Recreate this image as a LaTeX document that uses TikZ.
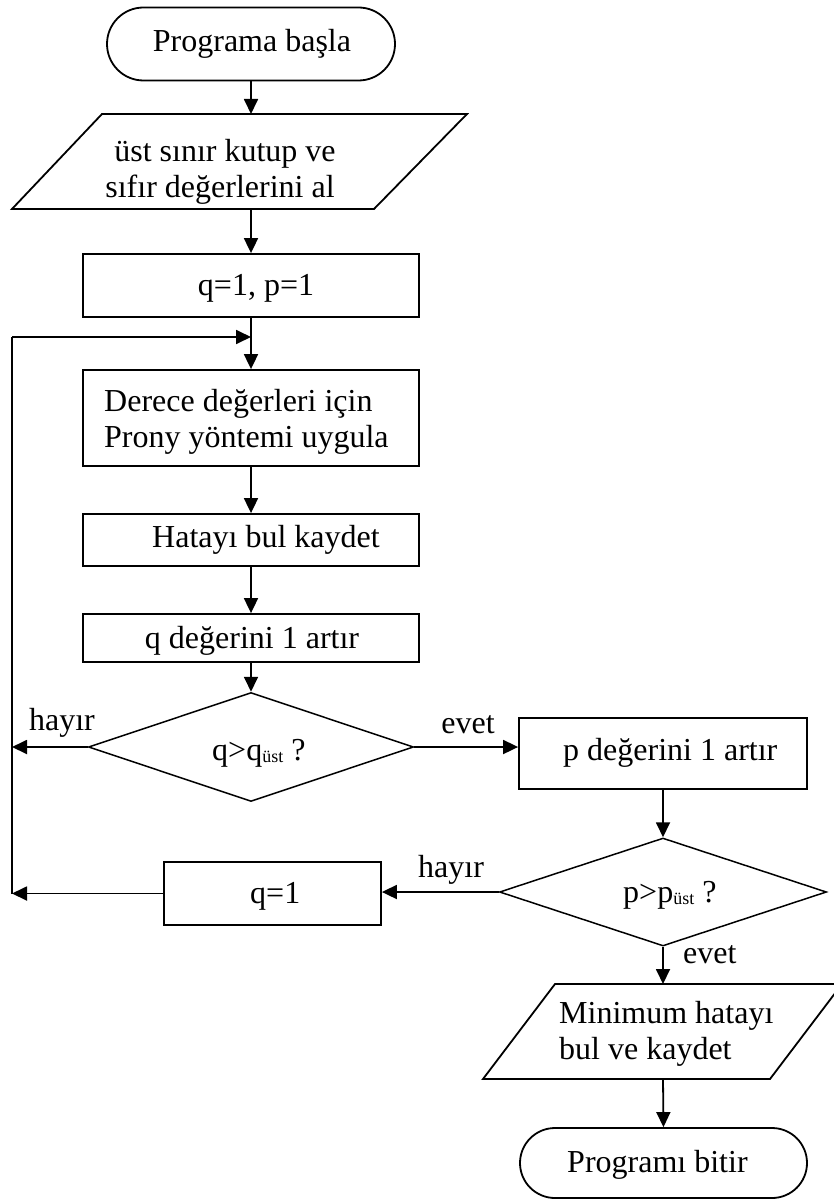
\documentclass[tikz,border=0pt]{standalone}
\usepackage{fontspec}
\setmainfont{Liberation Serif}
\usetikzlibrary{arrows.meta,shapes.geometric,shapes.misc}
\begin{document}
\begin{tikzpicture}[x=1pt,y=-1pt,
  lw/.style={line width=1.8pt},
  arr/.style={lw,-{Triangle[length=15pt,width=14pt]}},
  box/.style={draw,lw,rectangle,inner sep=0pt},
  term/.style={draw,lw,rounded rectangle,inner sep=0pt},
  dia/.style={draw,line width=1.5pt,diamond,inner sep=0pt},
  txt/.style={anchor=base,inner sep=0pt,font=\fontsize{32}{36}\selectfont},
  ltxt/.style={anchor=base west,inner sep=0pt,font=\fontsize{32}{36}\selectfont},
]
\useasboundingbox (0,0) rectangle (833,1201);
\newcommand{\sml}[1]{\raisebox{-2pt}{\fontsize{18}{18}\selectfont #1}}

% shapes
\node[term,minimum width=288pt,minimum height=73pt] (start) at (251,44) {};
\coordinate (in1t) at (251,114);
\coordinate (in1b) at (251,209);
\draw[lw,line join=miter] (102,114) -- (467,114) -- (374,209) -- (12,209) -- cycle;
\node[box,minimum width=336pt,minimum height=63pt] (init) at (251,285.5) {};
\node[box,minimum width=336pt,minimum height=96pt] (prony) at (251,418) {};
\node[box,minimum width=336pt,minimum height=52pt] (err) at (251,540) {};
\node[box,minimum width=336pt,minimum height=48pt] (incq) at (251,638) {};
\node[dia,minimum width=325pt,minimum height=109pt] (dq) at (251,747) {};
\node[box,minimum width=288pt,minimum height=71pt] (incp) at (663,753.5) {};
\node[dia,minimum width=327pt,minimum height=108pt] (dp) at (663,892) {};
\node[box,minimum width=217pt,minimum height=63pt] (resetq) at (272.5,893.5) {};
\coordinate (outt) at (663,984);
\coordinate (outb) at (663,1079);
\draw[lw,line join=miter] (555,984) -- (842,984) -- (770,1079) -- (483,1079) -- cycle;
\node[term,minimum width=287pt,minimum height=70pt] (stop) at (663.5,1163) {};

% texts
\node[txt] (t1) at (252,52) {Programa başla};
\node[txt] (t2a) at (225,162) {üst sınır kutup ve};
\node[txt] (t2b) at (220,197) {sıfır değerlerini al};
\node[txt] (t3) at (256,295) {q=1, p=1};
\node[ltxt] (t4a) at (104,411) {Derece değerleri için};
\node[ltxt] (t4b) at (104,447) {Prony yöntemi uygula};
\node[ltxt] (t5) at (152,547) {Hatayı bul kaydet};
\node[txt] (t6) at (252,648) {q değerini 1 artır};
\node[ltxt] (t7) at (212,760) {q>q\sml{üst} ?};
\node[txt] (l1) at (62,730) {hayır};
\node[txt] (l2) at (468,733) {evet};
\node[ltxt] (t8) at (563,760) {p değerini 1 artır};
\node[ltxt] (t9) at (623,902) {p>p\sml{üst} ?};
\node[ltxt] (l3) at (418,877) {hayır};
\node[ltxt] (t10) at (250,903) {q=1};
\node[ltxt] (l4) at (683,963) {evet};
\node[ltxt] (t11a) at (559,1023) {Minimum hatayı};
\node[ltxt] (t11b) at (559,1059) {bul ve kaydet};
\node[ltxt] (t12) at (567,1172) {Programı bitir};

% connectors
\coordinate (fbT) at (12,337);
\coordinate (fbB) at (12,893.5);
\draw[arr] (start.south) -- (in1t);
\draw[arr] (in1b) -- (init.north);
\draw[arr] (init.south) -- (prony.north);
\draw[lw] (fbB) -- (fbT);
\draw[arr] (fbT) -- (fbT -| init.south);
\draw[arr] (prony.south) -- (err.north);
\draw[arr] (err.south) -- (incq.north);
\draw[arr] (incq.south) -- (dq.north);
\draw[arr] (dq.west) -- (dq.west -| fbT);
\draw[arr] (dq.east) -- (dq.east -| incp.west);
\draw[arr] (incp.south) -- (incp.south |- dp.north);
\draw[arr] (dp.west) -- (dp.west -| resetq.east);
\draw[arr] (resetq.west) -- (fbB);
\draw[arr] (dp.south) -- (outt);
\draw[arr] (outb) -- (stop.north);
\end{tikzpicture}
\end{document}
